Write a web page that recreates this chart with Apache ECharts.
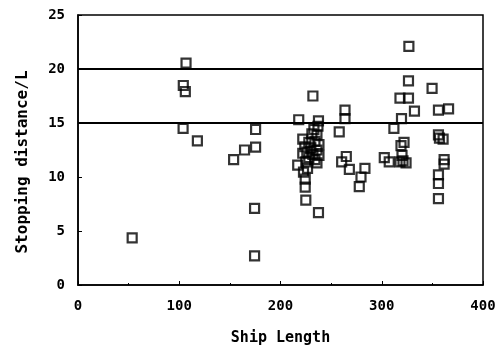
<!DOCTYPE html>
<html><head><meta charset="utf-8">
<script src="https://cdn.jsdelivr.net/npm/echarts@6/dist/echarts.min.js"></script>
<style>html,body{margin:0;padding:0;background:#fff}#c{width:501px;height:351px}</style>
</head><body><div id="c"></div>
<script>
// Ship length (m)
var shipLength = [53.5, 106.7, 104, 106, 103.8, 117.9, 153.7, 164.5, 175.4, 175.4, 174.4, 174.4,
  217, 218, 237.5, 237, 233, 231, 236, 222, 228, 234, 238, 224, 230, 236, 226, 232, 238, 222, 228, 234, 225, 236, 222.7, 226.7, 224.4, 224.4, 225, 237.5, 232,
  258, 263.7, 263.7, 260.4, 265, 268, 277.8, 279.5, 283.4,
  302.5, 307.4, 312, 319.5, 318, 326.4, 326.8, 326.4, 332.3, 322, 319, 320, 321, 324, 318,
  349.7, 356, 366, 356, 357, 360.6, 356, 356, 356, 361.6, 361.6];
// Stopping distance / L
var stopDist = [4.36, 20.55, 18.47, 17.9, 14.5, 13.34, 11.6, 12.5, 12.76, 14.4, 7.1, 2.7,
  11.1, 15.3, 15.2, 14.7, 14.4, 14.0, 13.9, 13.5, 13.2, 13.3, 13.0, 12.8, 12.7, 12.5, 12.3, 12.1, 12.0, 12.2, 11.8, 11.6, 11.4, 11.3, 10.45, 10.8, 9.8, 9.07, 7.85, 6.7, 17.5,
  14.17, 16.2, 15.4, 11.4, 11.9, 10.7, 9.1, 10.0, 10.8,
  11.8, 11.4, 14.5, 15.4, 17.3, 17.3, 22.1, 18.9, 16.1, 13.2, 12.9, 12.0, 11.5, 11.3, 11.4,
  18.2, 16.2, 16.3, 13.9, 13.6, 13.5, 10.2, 9.4, 8.0, 11.6, 11.2];
var thresholds = [15, 20];
var xTicks = [0, 100, 200, 300, 400];
var yTicks = [0, 5, 10, 15, 20, 25];

var pts = shipLength.map(function (x, i) { return [x, stopDist[i]]; });
var font = '"DejaVu Sans Mono", monospace';
var chart = echarts.init(document.getElementById('c'), null, {renderer: 'canvas'});
chart.setOption({
  animation: false,
  backgroundColor: '#fff',
  grid: {left: 78, right: 18, top: 15, bottom: 64, show: true, borderColor: '#000', borderWidth: 1.5},
  xAxis: {
    type: 'value', min: xTicks[0], max: xTicks[xTicks.length - 1], interval: 100,
    name: 'Ship Length', nameLocation: 'middle', nameGap: 46,
    nameTextStyle: {fontFamily: font, fontWeight: 'bold', fontSize: 15, color: '#000'},
    axisLine: {lineStyle: {color: '#000', width: 1.5}},
    axisTick: {inside: true, length: 4, lineStyle: {color: '#000'}},
    minorTick: {show: true, splitNumber: 2, length: 2, lineStyle: {color: '#000'}},
    splitLine: {show: false},
    axisLabel: {fontFamily: font, fontWeight: 'bold', fontSize: 14, color: '#000', margin: 14}
  },
  yAxis: {
    type: 'value', min: yTicks[0], max: yTicks[yTicks.length - 1], interval: 5,
    name: 'Stopping distance/L', nameLocation: 'middle', nameGap: 47,
    nameTextStyle: {fontFamily: font, fontWeight: 'bold', fontSize: 16, color: '#000', padding: [0, 24, 0, 0]},
    axisLine: {lineStyle: {color: '#000', width: 1.5}},
    axisTick: {inside: true, length: 4, lineStyle: {color: '#000'}},
    splitLine: {show: false},
    axisLabel: {fontFamily: font, fontWeight: 'bold', fontSize: 14, color: '#000', margin: 13}
  },
  series: [{
    type: 'scatter',
    data: pts,
    symbol: 'rect',
    symbolSize: 9,
    itemStyle: {color: 'rgba(255,255,255,0)', borderColor: '#000', borderWidth: 2.2},
    markLine: {
      silent: true, symbol: 'none', label: {show: false},
      lineStyle: {color: '#000', width: 2, type: 'solid'},
      data: thresholds.map(function (v) { return {yAxis: v}; })
    }
  }]
});
</script></body></html>
